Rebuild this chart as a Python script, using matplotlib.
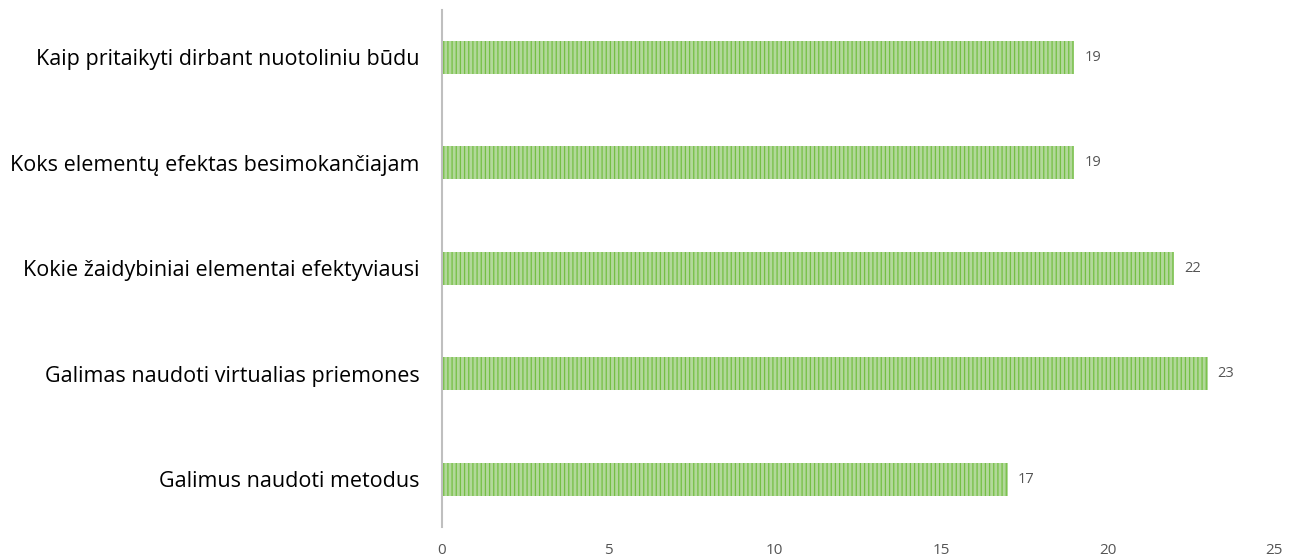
import matplotlib
matplotlib.use("Agg")
import matplotlib.pyplot as plt

# Temos ir jų paminėjimų skaičius
temos = [
    "Galimus naudoti metodus",
    "Galimas naudoti virtualias priemones",
    "Kokie žaidybiniai elementai efektyviausi",
    "Koks elementų efektas besimokančiajam",
    "Kaip pritaikyti dirbant nuotoliniu būdu",
]
kiekis = [17, 23, 22, 19, 19]
x_ticks = [0, 5, 10, 15, 20, 25]

plt.rcParams["font.family"] = ["Open Sans", "DejaVu Sans"]
plt.rcParams["hatch.linewidth"] = 0.9

fig = plt.figure(figsize=(12.99, 5.6), dpi=100)
ax = fig.add_axes([0.340, 0.050, 0.641, 0.942])

y = range(len(temos))
# vertikalių linijų raštas ant šviesiai žalio fono
ax.barh(y, kiekis, height=0.31, color="#b2d89a", edgecolor="#74bf44",
        linewidth=0, hatch="||||", zorder=2)

for yi, v in zip(y, kiekis):
    ax.text(v + 0.3, yi, str(v), va="center", ha="left",
            fontsize=10.5, color="#555555")

ax.set_xlim(0, 25)
ax.set_ylim(-0.5, len(temos) - 0.5)
ax.set_yticks(list(y))
ax.set_yticklabels(temos, fontsize=15.5, color="#000000")
ax.set_xticks(x_ticks)
ax.set_xticklabels([str(t) for t in x_ticks], fontsize=11, color="#555555")
ax.tick_params(axis="both", length=0)
ax.tick_params(axis="y", pad=16)
ax.tick_params(axis="x", pad=8)

for s in ["top", "right", "bottom"]:
    ax.spines[s].set_visible(False)
ax.spines["left"].set_color("#bfbfbf")
ax.spines["left"].set_linewidth(1.5)
ax.spines["left"].set_bounds(-0.45, 4.45)

fig.savefig("out.png", dpi=100)
